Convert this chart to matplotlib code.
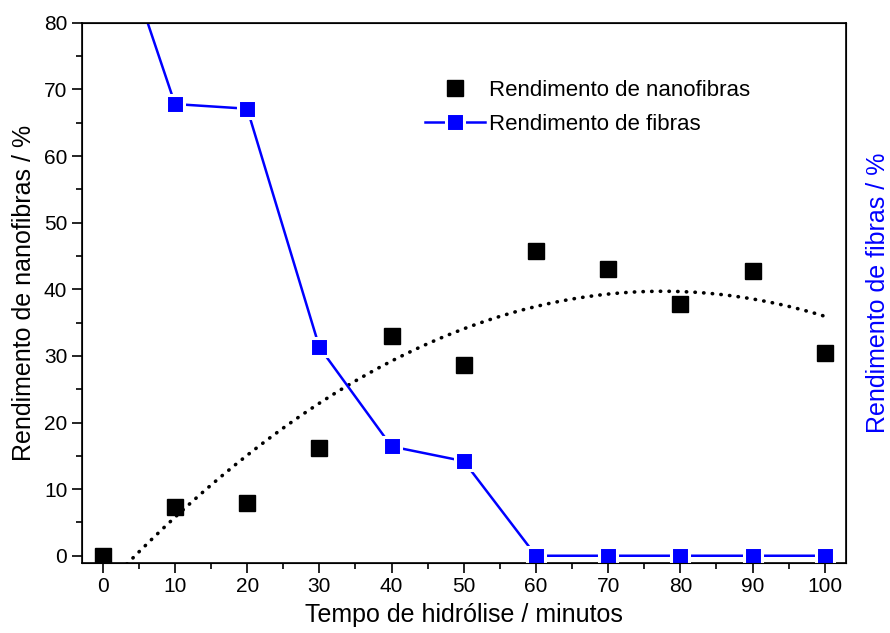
import numpy as np
import matplotlib.pyplot as plt
from matplotlib.ticker import MultipleLocator

# Dados
tempo = np.array([0, 10, 20, 30, 40, 50, 60, 70, 80, 90, 100])
rend_nanofibras = np.array([0.0, 7.3, 7.9, 16.2, 33.0, 28.7, 45.7, 43.0, 37.8, 42.8, 30.5])
rend_fibras = np.array([100.0, 67.8, 67.1, 31.3, 16.4, 14.2, 0.0, 0.0, 0.0, 0.0, 0.0])

plt.rcParams.update({"font.family": ["Liberation Sans", "DejaVu Sans"],
                     "font.size": 15,
                     "figure.dpi": 100})

fig = plt.figure(figsize=(8.9, 6.33))
ax = fig.add_axes([0.092, 0.111, 0.859, 0.853])

# Ajuste polinomial (2a ordem) dos dados de nanofibras
coef = np.polyfit(tempo, rend_nanofibras, 2)
xs = np.linspace(0, 100, 300)
ax.plot(xs, np.polyval(coef, xs), color="black", linewidth=2.6,
        linestyle=(0, (0.1, 2.3)), dash_capstyle="round", zorder=2)

ax.plot(tempo, rend_nanofibras, linestyle="none", marker="s", markersize=11,
        color="black", label="Rendimento de nanofibras", zorder=3)
ax.plot(tempo, rend_fibras, color="blue", linewidth=1.8, marker="s",
        markersize=13, markeredgecolor="white", markeredgewidth=2.2,
        markerfacecolor="blue", label="Rendimento de fibras", zorder=3)

ax.set_xlim(-2.9, 103)
ax.set_ylim(-1.05, 80)
ax.xaxis.set_major_locator(MultipleLocator(10))
ax.xaxis.set_minor_locator(MultipleLocator(5))
ax.yaxis.set_major_locator(MultipleLocator(10))
ax.yaxis.set_minor_locator(MultipleLocator(5))
ax.tick_params(which="major", direction="out", length=7, width=1.2, labelsize=15)
ax.tick_params(which="minor", direction="out", length=4, width=1.2)
for s in ax.spines.values():
    s.set_linewidth(1.2)

ax.set_xlabel("Tempo de hidrólise / minutos", fontsize=18, labelpad=5)
ax.set_ylabel("Rendimento de nanofibras / %", fontsize=18, labelpad=6)

ax2 = ax.twinx()
ax2.set_ylim(ax.get_ylim())
ax2.set_yticks([])
ax2.set_ylabel("Rendimento de fibras / %", fontsize=18, color="blue", labelpad=14)

ax.legend(loc="upper left", bbox_to_anchor=(0.423, 0.932), frameon=False,
          fontsize=16, handlelength=2.7, handletextpad=0.15, labelspacing=0.6)

fig.savefig("out.png", dpi=100)
